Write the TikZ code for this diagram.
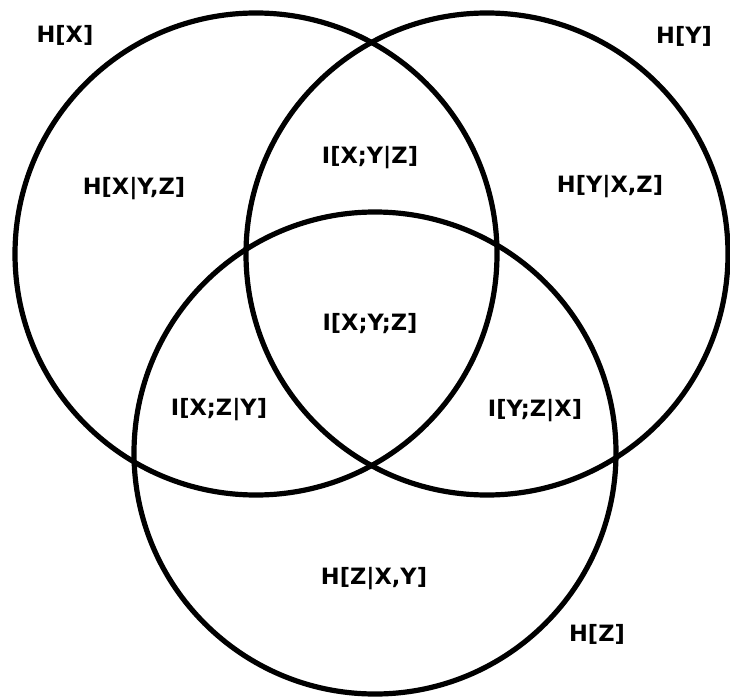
\documentclass[tikz,border=0pt]{standalone}
\usepackage{fontspec}
\setmainfont{DejaVu Sans}
\usepackage{tikz}

\begin{document}
\begin{tikzpicture}[
    set/.style={circle, draw, line width=0.13cm, minimum size=12.05cm, inner sep=0pt},
    lbl/.style={font=\fontsize{16}{19}\selectfont\bfseries, inner sep=0pt},
  ]
    \useasboundingbox (0,0) rectangle (18.25,17.45);

    % ---- 三个集合 ----
    \node[set] (cx) at (6.4,11.1) {};
    \node[set] (cy) at (12.175,11.1) {};
    \node[set] (cz) at (9.375,6.125) {};

    % ---- 集合名称 ----
    \node[lbl] (hx) at (1.625,16.575) {H[X]};
    \node[lbl] (hy) at (17.1,16.55) {H[Y]};
    \node[lbl] (hz) at (14.925,1.6) {H[Z]};

    % ---- 各区域 ----
    \node[lbl] (hxyz) at (3.35,12.725) {H[X|Y,Z]};
    \node[lbl] (hyxz) at (15.25,12.775) {H[Y|X,Z]};
    \node[lbl] (hzxy) at (9.35,2.975) {H[Z|X,Y]};
    \node[lbl] (ixyz) at (9.25,13.5) {I[X;Y|Z]};
    \node[lbl] (ixzy) at (5.475,7.2) {I[X;Z|Y]};
    \node[lbl] (iyzx) at (13.375,7.175) {I[Y;Z|X]};
    \node[lbl] (iall) at (9.25,9.35) {I[X;Y;Z]};
  \end{tikzpicture}
\end{document}
